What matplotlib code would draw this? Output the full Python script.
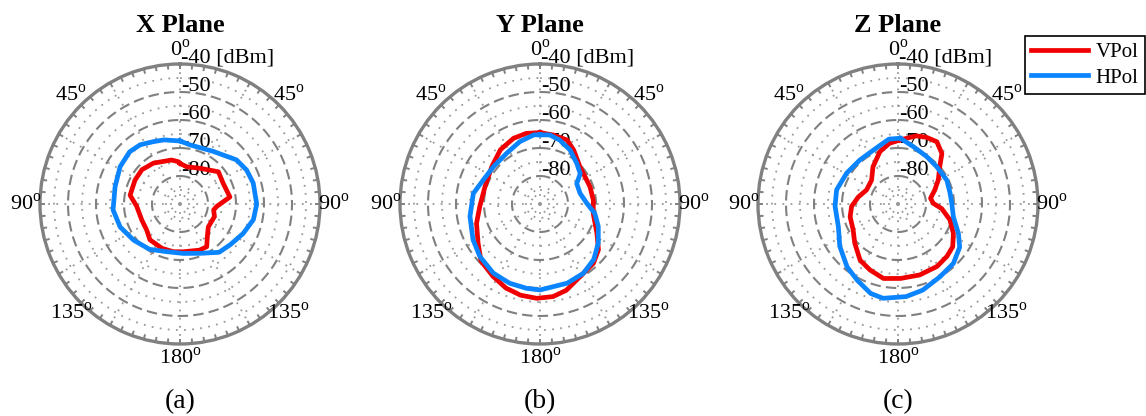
import numpy as np
import matplotlib
matplotlib.use("Agg")
import matplotlib.pyplot as plt

plt.rcParams['font.family'] = ['Liberation Serif', 'DejaVu Serif']
plt.rcParams['mathtext.fontset'] = 'custom'
plt.rcParams['mathtext.rm'] = 'Liberation Serif'

# measured patterns, angle in degrees (0 = top, clockwise), level in dBm
x_ang_v = [0, 10, 29, 50, 64, 82, 94, 100, 110, 129, 140, 148, 157, 176, 188, 202, 220, 232, 247, 267, 280, 298, 312, 327, 349, 358]
x_vpol = [-75.5, -76.5, -75.4, -72.1, -72.9, -72.0, -76.9, -77.8, -76.9, -77.0, -74.8, -72.0, -72.1, -72.9, -72.8, -72.9,
          -73.3, -74.9, -75.2, -74.5, -71.9, -71.8, -71.7, -72.6, -74.0, -74.9]
x_ang_h = [0, 10, 32, 52, 63, 74, 90, 102, 115, 129, 141, 158, 176, 196, 214, 232, 249, 265, 285, 302, 316, 326, 337, 346]
x_hpol = [-67.5, -68.6, -67.8, -64.4, -63.3, -62.8, -62.6, -63.2, -65.1, -66.9, -67.8, -71.0, -72.3, -72.3, -70.5, -69.0,
          -67.1, -66.0, -66.0, -64.8, -64.1, -64.5, -65.8, -66.4]

y_ang_v = [0, 11, 23, 32, 47, 59, 71, 86, 100, 117, 128, 138, 151, 163, 172, 182, 192, 202, 213, 226, 238, 253, 268, 288,
           308, 324, 338, 349]
y_vpol = [-64.5, -64.9, -65.2, -67.3, -70.5, -71.2, -71.1, -70.9, -70.7, -67.2, -63.5, -61.5, -60.4, -57.8, -56.6, -56.3,
          -56.7, -57.6, -59.2, -60.7, -63.9, -66.3, -68.5, -69.4, -68.2, -66.0, -64.7, -64.3]
y_ang_h = [0, 8, 17, 29, 42, 53, 61, 75, 89, 100, 111, 124, 136, 148, 161, 171, 180, 189, 201, 214, 229, 242, 260, 279,
           293, 309, 327, 342, 355]
y_hpol = [-65.3, -65.1, -66.1, -67.9, -70.4, -72.0, -75.0, -75.2, -73.3, -70.1, -67.7, -64.9, -62.4, -60.8, -60.1, -60.1,
          -59.3, -59.5, -59.7, -60.2, -61.5, -62.9, -64.6, -65.9, -68.0, -68.7, -68.3, -66.6, -65.2]

z_ang_v = [2, 15, 23, 32, 41, 48, 59, 69, 80, 89, 96, 107, 118, 128, 137, 148, 163, 178, 191, 203, 214, 228, 240, 255,
           267, 280, 294, 312, 326, 341, 352]
z_vpol = [-67.1, -64.8, -64.1, -63.8, -66.1, -69.9, -73.2, -75.9, -78.2, -77.4, -74.3, -70.6, -67.6, -65.2, -64.4, -63.7,
          -63.5, -63.4, -62.9, -64.4, -65.8, -69.2, -71.5, -72.3, -73.4, -75.6, -77.7, -77.3, -74.0, -70.2, -68.1]
z_ang_h = [2, 15, 31, 46, 64, 78, 89, 103, 116, 125, 137, 150, 164, 175, 189, 197, 208, 219, 234, 249, 268, 283, 301,
           319, 336, 352]
z_hpol = [-66.5, -68.8, -70.2, -70.8, -70.6, -71.0, -70.8, -69.7, -66.0, -63.1, -61.0, -60.0, -58.0, -56.8, -55.9, -56.6,
          -59.1, -61.1, -64.3, -67.2, -67.5, -67.5, -68.6, -69.2, -68.8, -66.6]

titles = ['X Plane', 'Y Plane', 'Z Plane']
sublabels = ['(a)', '(b)', '(c)']
r_labels = ['-40 [dBm]', '-50', '-60', '-70', '-80']
r_levels = [-40, -50, -60, -70, -80]
ang_ticks = [0, 45, 90, 135, 180, 225, 270, 315]
ang_labels = ['0', '45', '90', '135', '180', '135', '90', '45']

panels = [(x_ang_v, x_vpol, x_ang_h, x_hpol),
          (y_ang_v, y_vpol, y_ang_h, y_hpol),
          (z_ang_v, z_vpol, z_ang_h, z_hpol)]

RED = '#f00000'
BLUE = '#0a84ff'
GRAY = '#808080'

fig = plt.figure(figsize=(11.46, 4.16), dpi=100)
lefts = [40 / 1146, 400 / 1146, 758 / 1146]

for k, (av, v, ah, h) in enumerate(panels):
    ax = fig.add_axes([lefts[k], 72 / 416, 280 / 1146, 280 / 416], projection='polar')
    ax.set_theta_zero_location('N')
    ax.set_theta_direction(-1)
    ax.set_ylim(-90, -40)
    ax.grid(False)
    ax.set_xticks([])
    ax.set_yticks([])
    ax.spines['polar'].set_edgecolor(GRAY)
    ax.spines['polar'].set_linewidth(2.4)

    # grid: dashed rings every 10 dB, dotted rings between, dotted spokes every 30 deg
    th = np.linspace(0, 2 * np.pi, 721)
    for r in [-50, -60, -70, -80]:
        ax.plot(th, np.full_like(th, r), color=GRAY, lw=1.5, ls=(0, (5, 2.5)), zorder=1)
    for r in [-45, -55, -65, -75, -85]:
        ax.plot(th, np.full_like(th, r), color='#999999', lw=1.3, ls=(0, (1, 3.5)), zorder=1)
    ax.vlines(np.deg2rad(np.arange(0, 360, 30)), -90, -40, color='#999999', lw=1.3,
              linestyles=[(0, (1, 3.5))], zorder=1)
    ax.vlines(np.deg2rad(np.arange(0, 360, 5)), -41.8, -40, color=GRAY, lw=1.4, zorder=1)

    for lbl, r in zip(r_labels, r_levels):
        ax.annotate(lbl, xy=(0, r), xytext=(1, 4), textcoords='offset points',
                    ha='left', va='center', fontsize=16, zorder=2, annotation_clip=False)
    for a, lbl in zip(ang_ticks, ang_labels):
        ax.text(np.deg2rad(a), -35, lbl + r'$^{\mathrm{o}}$', ha='center', va='center',
                fontsize=16, clip_on=False)

    av_c = np.deg2rad(np.append(av, av[0] + 360))
    ah_c = np.deg2rad(np.append(ah, ah[0] + 360))
    lv, = ax.plot(av_c, np.append(v, v[0]), color=RED, lw=3.4, zorder=4, label='VPol')
    lh, = ax.plot(ah_c, np.append(h, h[0]), color=BLUE, lw=3.4, zorder=4, label='HPol')

    ax.text(0.5, 1.139, titles[k], transform=ax.transAxes, ha='center', va='center',
            fontsize=19, fontweight='bold')
    ax.text(0.5, -0.207, sublabels[k], transform=ax.transAxes, ha='center', va='center',
            fontsize=20)

leg = fig.legend(handles=[lv, lh], loc='upper left', bbox_to_anchor=(1025 / 1146, 1 - 36 / 416),
                 fontsize=15, frameon=True, fancybox=False, framealpha=1, edgecolor='black',
                 handlelength=2.7, handletextpad=0.4, labelspacing=0.3, borderpad=0.3,
                 borderaxespad=0)
leg.get_frame().set_linewidth(1.2)

fig.savefig('out.png', dpi=100)
